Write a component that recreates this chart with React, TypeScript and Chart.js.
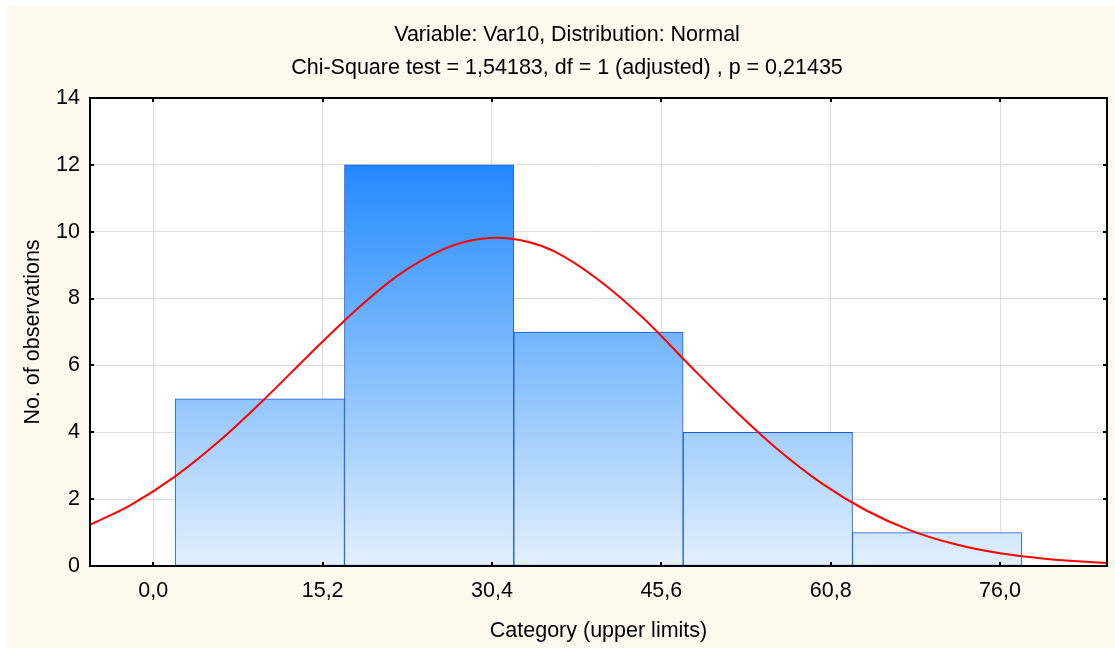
import React, { useEffect, useRef } from "react";
import { Chart, registerables } from "chart.js";

Chart.register(...registerables);

// ---- data ----
const titleLines = [
  "Variable: Var10, Distribution: Normal",
  "Chi-Square test = 1,54183, df = 1 (adjusted) , p = 0,21435",
];
const xAxisTitle = "Category (upper limits)";
const yAxisTitle = "No. of observations";

// histogram bins (centers of the bins on the value axis) and counts
const binCenters = [9.56, 24.76, 39.96, 55.16, 70.36];
const binCounts = [5, 12, 7, 4, 1];

// fitted normal curve
const curveX = [-5.68, -2, 2, 6, 10, 14, 18, 22, 26, 28, 30.8, 33.6, 36, 40, 44, 48, 52, 56, 60, 64, 68, 72, 76, 80, 85.6];
const curveY = [1.23, 1.83, 2.69, 3.76, 5.0, 6.32, 7.6, 8.7, 9.47, 9.7, 9.82, 9.7, 9.41, 8.55, 7.41, 6.05, 4.72, 3.5, 2.47, 1.66, 1.06, 0.65, 0.38, 0.22, 0.09];

const xTicks = [0, 15.2, 30.4, 45.6, 60.8, 76.0];
const xMin = -5.68;
const xMax = 85.6;
const yMin = 0;
const yMax = 14;
const yStep = 2;

const CREAM = "#FDF9EE";
const FONT = "'Liberation Sans', Arial, sans-serif";
const FONT_SIZE = 21.5;

const framePlugin = {
  id: "frame",
  beforeDraw(chart: any) {
    const { ctx, chartArea: a, width, height } = chart;
    ctx.save();
    ctx.fillStyle = CREAM;
    ctx.fillRect(0, 0, width, height);
    ctx.fillStyle = "#ffffff";
    ctx.fillRect(a.left, a.top, a.right - a.left, a.bottom - a.top);
    ctx.restore();
  },
  afterDraw(chart: any) {
    const { ctx, chartArea: a, scales } = chart;
    ctx.save();
    ctx.strokeStyle = "#000";
    ctx.lineWidth = 2;
    ctx.strokeRect(a.left, a.top, a.right - a.left, a.bottom - a.top);
    ctx.beginPath();
    for (const v of xTicks) {
      const px = Math.round(scales.x.getPixelForValue(v));
      ctx.moveTo(px, a.bottom);
      ctx.lineTo(px, a.bottom - 4);
      ctx.moveTo(px, a.top);
      ctx.lineTo(px, a.top + 4);
    }
    for (let v = yMin; v <= yMax; v += yStep) {
      const py = Math.round(scales.y.getPixelForValue(v));
      ctx.moveTo(a.left, py);
      ctx.lineTo(a.left + 4, py);
      ctx.moveTo(a.right, py);
      ctx.lineTo(a.right - 4, py);
    }
    ctx.stroke();
    ctx.fillStyle = "#000";
    ctx.font = `${FONT_SIZE}px ${FONT}`;
    ctx.textAlign = "center";
    ctx.textBaseline = "middle";
    ctx.fillText(titleLines[0], 560, 29);
    ctx.fillText(titleLines[1], 560, 62);
    ctx.fillText(xAxisTitle, (a.left + a.right) / 2, 625);
    ctx.translate(26, (a.top + a.bottom) / 2);
    ctx.rotate(-Math.PI / 2);
    ctx.fillText(yAxisTitle, 0, 0);
    ctx.restore();
  },
};

export default function App() {
  const ref = useRef<HTMLCanvasElement | null>(null);

  useEffect(() => {
    if (!ref.current) return;
    const chart = new Chart(ref.current, {
      type: "bar",
      data: {
        datasets: [
          {
            type: "line",
            data: curveX.map((x, i) => ({ x, y: curveY[i] })),
            borderColor: "#FF0000",
            borderWidth: 2,
            pointRadius: 0,
            cubicInterpolationMode: "monotone",
            fill: false,
            order: 0,
          } as any,
          {
            type: "bar",
            data: binCenters.map((x, i) => ({ x, y: binCounts[i] })),
            backgroundColor: (c: any) => {
              const chart = c.chart;
              const { chartArea, scales } = chart;
              if (!chartArea || !scales.y) return "#80bbff";
              const g = chart.ctx.createLinearGradient(
                0,
                scales.y.getPixelForValue(12),
                0,
                scales.y.getPixelForValue(0)
              );
              g.addColorStop(0, "#2389FF");
              g.addColorStop(0.42, "#72B5FC");
              g.addColorStop(1, "#E3F0FD");
              return g;
            },
            borderColor: "#1F58D8",
            borderWidth: 1,
            borderSkipped: false,
            barPercentage: 1,
            categoryPercentage: 1,
            order: 1,
          } as any,
        ],
      },
      options: {
        animation: false,
        responsive: true,
        maintainAspectRatio: false,
        layout: { padding: { left: 0, top: 92, right: 8, bottom: 0 } },
        plugins: {
          legend: { display: false },
          tooltip: { enabled: false },
          title: { display: false },
        },
        scales: {
          x: {
            type: "linear",
            min: xMin,
            max: xMax,
            offset: false,
            afterBuildTicks: (scale: any) => {
              scale.ticks = xTicks.map((v) => ({ value: v }));
            },
            afterFit: (scale: any) => {
              scale.height = 82;
            },
            ticks: {
              color: "#000",
              font: { family: FONT, size: FONT_SIZE },
              padding: 12,
              maxRotation: 0,
              autoSkip: false,
              callback: (v: any) => Number(v).toFixed(1).replace(".", ","),
            },
            grid: { color: "#DCDCDC", lineWidth: 1, drawTicks: false, offset: false },
            border: { display: false },
          },
          y: {
            type: "linear",
            min: yMin,
            max: yMax,
            afterFit: (scale: any) => {
              scale.width = 83;
            },
            ticks: {
              stepSize: yStep,
              color: "#000",
              font: { family: FONT, size: FONT_SIZE },
              padding: 10,
            },
            grid: { color: "#DCDCDC", lineWidth: 1, drawTicks: false },
            border: { display: false },
          },
        },
      },
      plugins: [framePlugin],
    } as any);
    return () => chart.destroy();
  }, []);

  return (
    <div style={{ position: "fixed", left: 7, top: 6, width: 1108, height: 642 }}>
      <canvas ref={ref} />
    </div>
  );
}
